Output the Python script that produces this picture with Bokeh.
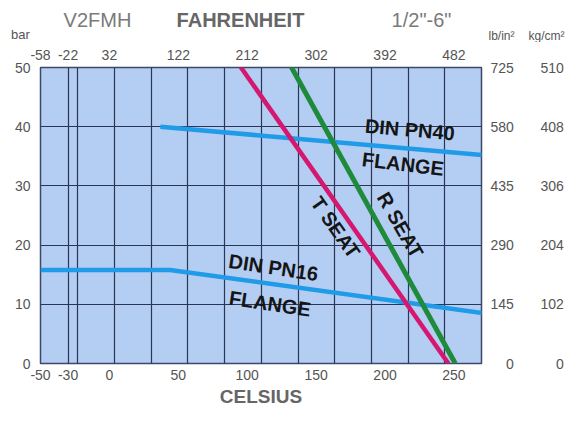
from bokeh.plotting import figure
from bokeh.layouts import column
from bokeh.models import Range1d, LinearAxis, FixedTicker, Grid, Label
from bokeh.embed import file_html
from bokeh.resources import INLINE

# ---- data ----
celsius_ticks = [-50, -30, 0, 50, 100, 150, 200, 250]
fahrenheit_labels = ["-58", "-22", "32", "122", "212", "302", "392", "482"]
bar_ticks = [0, 10, 20, 30, 40, 50]
psi_ticks = [0, 145, 290, 435, 580, 725]
kg_ticks = [0, 102, 204, 306, 408, 510]

t_seat_temp = [94, 246]
t_seat_bar = [50.5, 0]
r_seat_temp = [131, 251]
r_seat_bar = [50.5, 0]
pn40_temp = [37, 271]
pn40_bar = [40.0, 35.2]
pn16_temp = [-50, 44, 271]
pn16_bar = [15.8, 15.8, 8.5]

vgrid_temps = [-30, -23, 3.6, 30.3, 57, 83.6, 110.3, 136.9, 163.6, 190.2, 216.9, 243.5]
hgrid_bars = [10, 20, 30, 40]

FONT = "Liberation Sans"
TICK_COLOR = "#555555"
W, H = 566, 409
HEAD_H = 42
FRAME_L, FRAME_R, FRAME_T, FRAME_B = 40, 482, 67, 363

# ---- header strip (title line and unit captions) ----
head = figure(width=W, height=HEAD_H, x_range=Range1d(0, W), y_range=Range1d(HEAD_H, 0),
              output_backend="svg", toolbar_location=None,
              x_axis_location=None, y_axis_location=None,
              min_border=0, min_border_left=0, min_border_right=0,
              min_border_top=0, min_border_bottom=0)
head.frame_align = False
head.grid.visible = False
head.outline_line_color = None
head.background_fill_color = "white"
head.border_fill_color = "white"


def hdr(x, y, text, size, color, bold=False):
    head.add_layout(Label(x=x, y=y, text=text, text_align="center", text_baseline="middle",
                          text_font=FONT, text_font_size=size,
                          text_font_style="bold" if bold else "normal",
                          text_color=color))

hdr(97, 19, "V2FMH", "20px", "#7a7a7a")
hdr(240, 19, "FAHRENHEIT", "20px", "#666666", bold=True)
hdr(421, 19, "1/2\"-6\"", "20px", "#7a7a7a")
hdr(20, 34, "bar", "13px", TICK_COLOR)
hdr(501, 35, "lb/in\u00b2", "12px", TICK_COLOR)
hdr(546, 35, "kg/cm\u00b2", "12px", TICK_COLOR)

# ---- main chart ----
MH = H - HEAD_H
p = figure(width=W, height=MH, x_range=Range1d(-50, 270), y_range=Range1d(0, 50),
           output_backend="svg", toolbar_location=None,
           x_axis_location=None, y_axis_location=None,
           min_border_left=FRAME_L, min_border_right=W - FRAME_R,
           min_border_top=FRAME_T - HEAD_H, min_border_bottom=H - FRAME_B)
p.frame_align = False
p.grid.visible = False
p.background_fill_color = "#b4cdf2"
p.border_fill_color = "white"
p.outline_line_color = "#3c4866"
p.outline_line_width = 1.5

p.extra_y_ranges = {"psi": Range1d(0, 725), "kg": Range1d(0, 510)}


def style(ax, standoff):
    ax.axis_line_color = None
    ax.major_tick_line_color = None
    ax.minor_tick_line_color = None
    ax.major_label_text_font = FONT
    ax.major_label_text_font_size = "14px"
    ax.major_label_text_color = TICK_COLOR
    ax.major_label_standoff = standoff
    ax.major_tick_in = 0
    ax.major_tick_out = 0


bottom = LinearAxis(ticker=FixedTicker(ticks=celsius_ticks),
                    major_label_overrides={c: str(c) for c in celsius_ticks},
                    axis_label="CELSIUS")
style(bottom, 6)
bottom.axis_label_text_font = FONT
bottom.axis_label_text_font_size = "19px"
bottom.axis_label_text_font_style = "bold"
bottom.axis_label_text_color = "#666666"
bottom.axis_label_standoff = 3
p.add_layout(bottom, "below")

top = LinearAxis(ticker=FixedTicker(ticks=celsius_ticks),
                 major_label_overrides={c: f for c, f in zip(celsius_ticks, fahrenheit_labels)})
style(top, 8)
p.add_layout(top, "above")

left = LinearAxis(ticker=FixedTicker(ticks=bar_ticks),
                  major_label_overrides={b: str(b) for b in bar_ticks})
style(left, 10)
p.add_layout(left, "left")

pad = "\u2007\u2007"
psi_axis = LinearAxis(y_range_name="psi", ticker=FixedTicker(ticks=psi_ticks),
                      major_label_overrides={v: (pad + "0" if v == 0 else str(v)) for v in psi_ticks})
style(psi_axis, 9)
p.add_layout(psi_axis, "right")

kg_axis = LinearAxis(y_range_name="kg", ticker=FixedTicker(ticks=kg_ticks),
                     major_label_overrides={v: (pad + "0" if v == 0 else str(v)) for v in kg_ticks})
style(kg_axis, 24)
p.add_layout(kg_axis, "right")

grid_color = "#2a3656"
p.add_layout(Grid(dimension=0, ticker=FixedTicker(ticks=vgrid_temps),
                  grid_line_color=grid_color, grid_line_width=1.2))
p.add_layout(Grid(dimension=1, ticker=FixedTicker(ticks=hgrid_bars),
                  grid_line_color=grid_color, grid_line_width=1.2))

# ---- curves ----
blue = "#1f9be8"
p.line(pn40_temp, pn40_bar, line_color=blue, line_width=4.5)
p.line(pn16_temp, pn16_bar, line_color=blue, line_width=4.5)
p.line(t_seat_temp, t_seat_bar, line_color="#d5176f", line_width=4.5)
p.line(r_seat_temp, r_seat_bar, line_color="#1f8a3b", line_width=5)


# ---- in-chart labels ----
def lab(x, y, text, angle, size="20px", color="#151515"):
    p.add_layout(Label(x=x, y=y, text=text, angle=angle, angle_units="deg",
                       text_align="center", text_baseline="middle",
                       text_font=FONT, text_font_size=size,
                       text_font_style="bold", text_color=color))

lab(218, 39.5, "DIN PN40", -5)
lab(213, 33.7, "FLANGE", -7)
lab(164, 23.0, "T SEAT", -55)
lab(211, 23.4, "R SEAT", -60)
lab(119, 16.2, "DIN PN16", -8.5)
lab(116.5, 10.1, "FLANGE", -8.5)

layout = column(head, p, spacing=0)
open("out.html", "w").write(file_html(layout, INLINE))
